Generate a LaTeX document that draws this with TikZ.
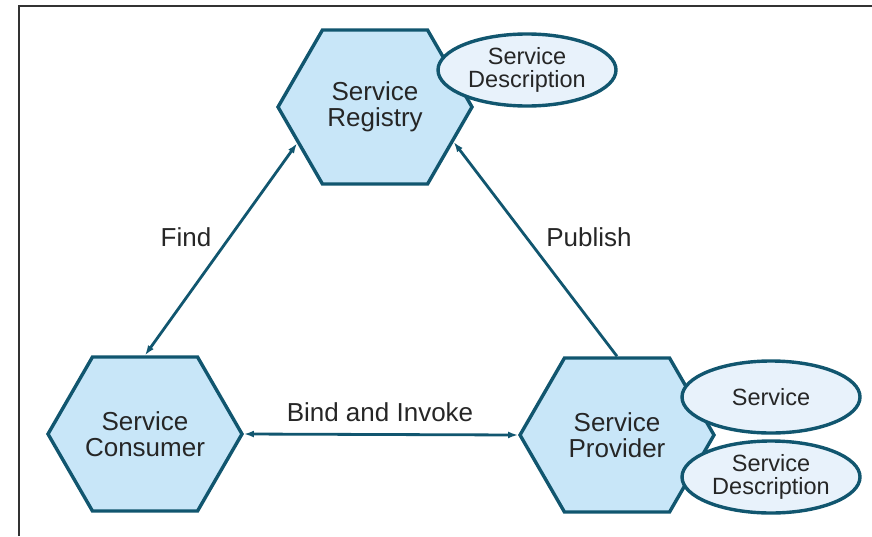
\documentclass[tikz,border=0pt]{standalone}
\usepackage{fontspec}
\setmainfont{Liberation Sans}
\usetikzlibrary{shapes.symbols,shapes.geometric,arrows.meta}
\definecolor{hexblue}{HTML}{C8E6F8}
\definecolor{ovalblue}{HTML}{E8F2FB}
\definecolor{edgeteal}{HTML}{11566F}
\definecolor{textgray}{HTML}{262626}
\begin{document}
\begin{tikzpicture}[x=1pt,y=-1pt,>={Latex[length=10pt,width=7pt]},
  role/.style={signal, signal to=west and east, signal pointer angle=120,
    draw=edgeteal, line width=3.4pt, fill=hexblue, minimum width=194pt,
    minimum height=154pt, inner xsep=-12pt, inner ysep=0pt, align=center,
    text=textgray, font=\fontsize{26}{26}\selectfont},
  artefact/.style={ellipse, draw=edgeteal, line width=3.4pt, fill=ovalblue,
    minimum width=178pt, minimum height=72pt, inner sep=0pt, align=center,
    text=textgray, font=\fontsize{23.5}{23}\selectfont},
  verb/.style={text=textgray, font=\fontsize{26}{26}\selectfont},
  link/.style={draw=edgeteal, line width=2.8pt}]
\useasboundingbox (0,0) rectangle (872,536);
\draw[line width=2pt, black!80] (19,536) |- (872,6);
% the three roles
\node[role] (registry) at (375,107) {Service\\Registry};
\node[role] (consumer) at (145,434) {Service\\Consumer};
\node[role] (provider) at (617,435) {Service\\Provider};
% what they hold
\node[artefact] (regdesc) at (527,70) {Service\\Description};
\node[artefact] (service) at (771,397) {Service};
\node[artefact] (provdesc) at (771,477) {Service\\Description};
% interactions
\draw[link, <->] (consumer.north) -- (registry.205);
\draw[link, ->] (provider.north) -- (registry.336);
\draw[link, <->] (consumer.east) -- (provider.west);
\node[verb] (find) at (186,237) {Find};
\node[verb] (publish) at (589,237) {Publish};
\node[verb] (bind) at (380,412) {Bind and Invoke};
\end{tikzpicture}
\end{document}
